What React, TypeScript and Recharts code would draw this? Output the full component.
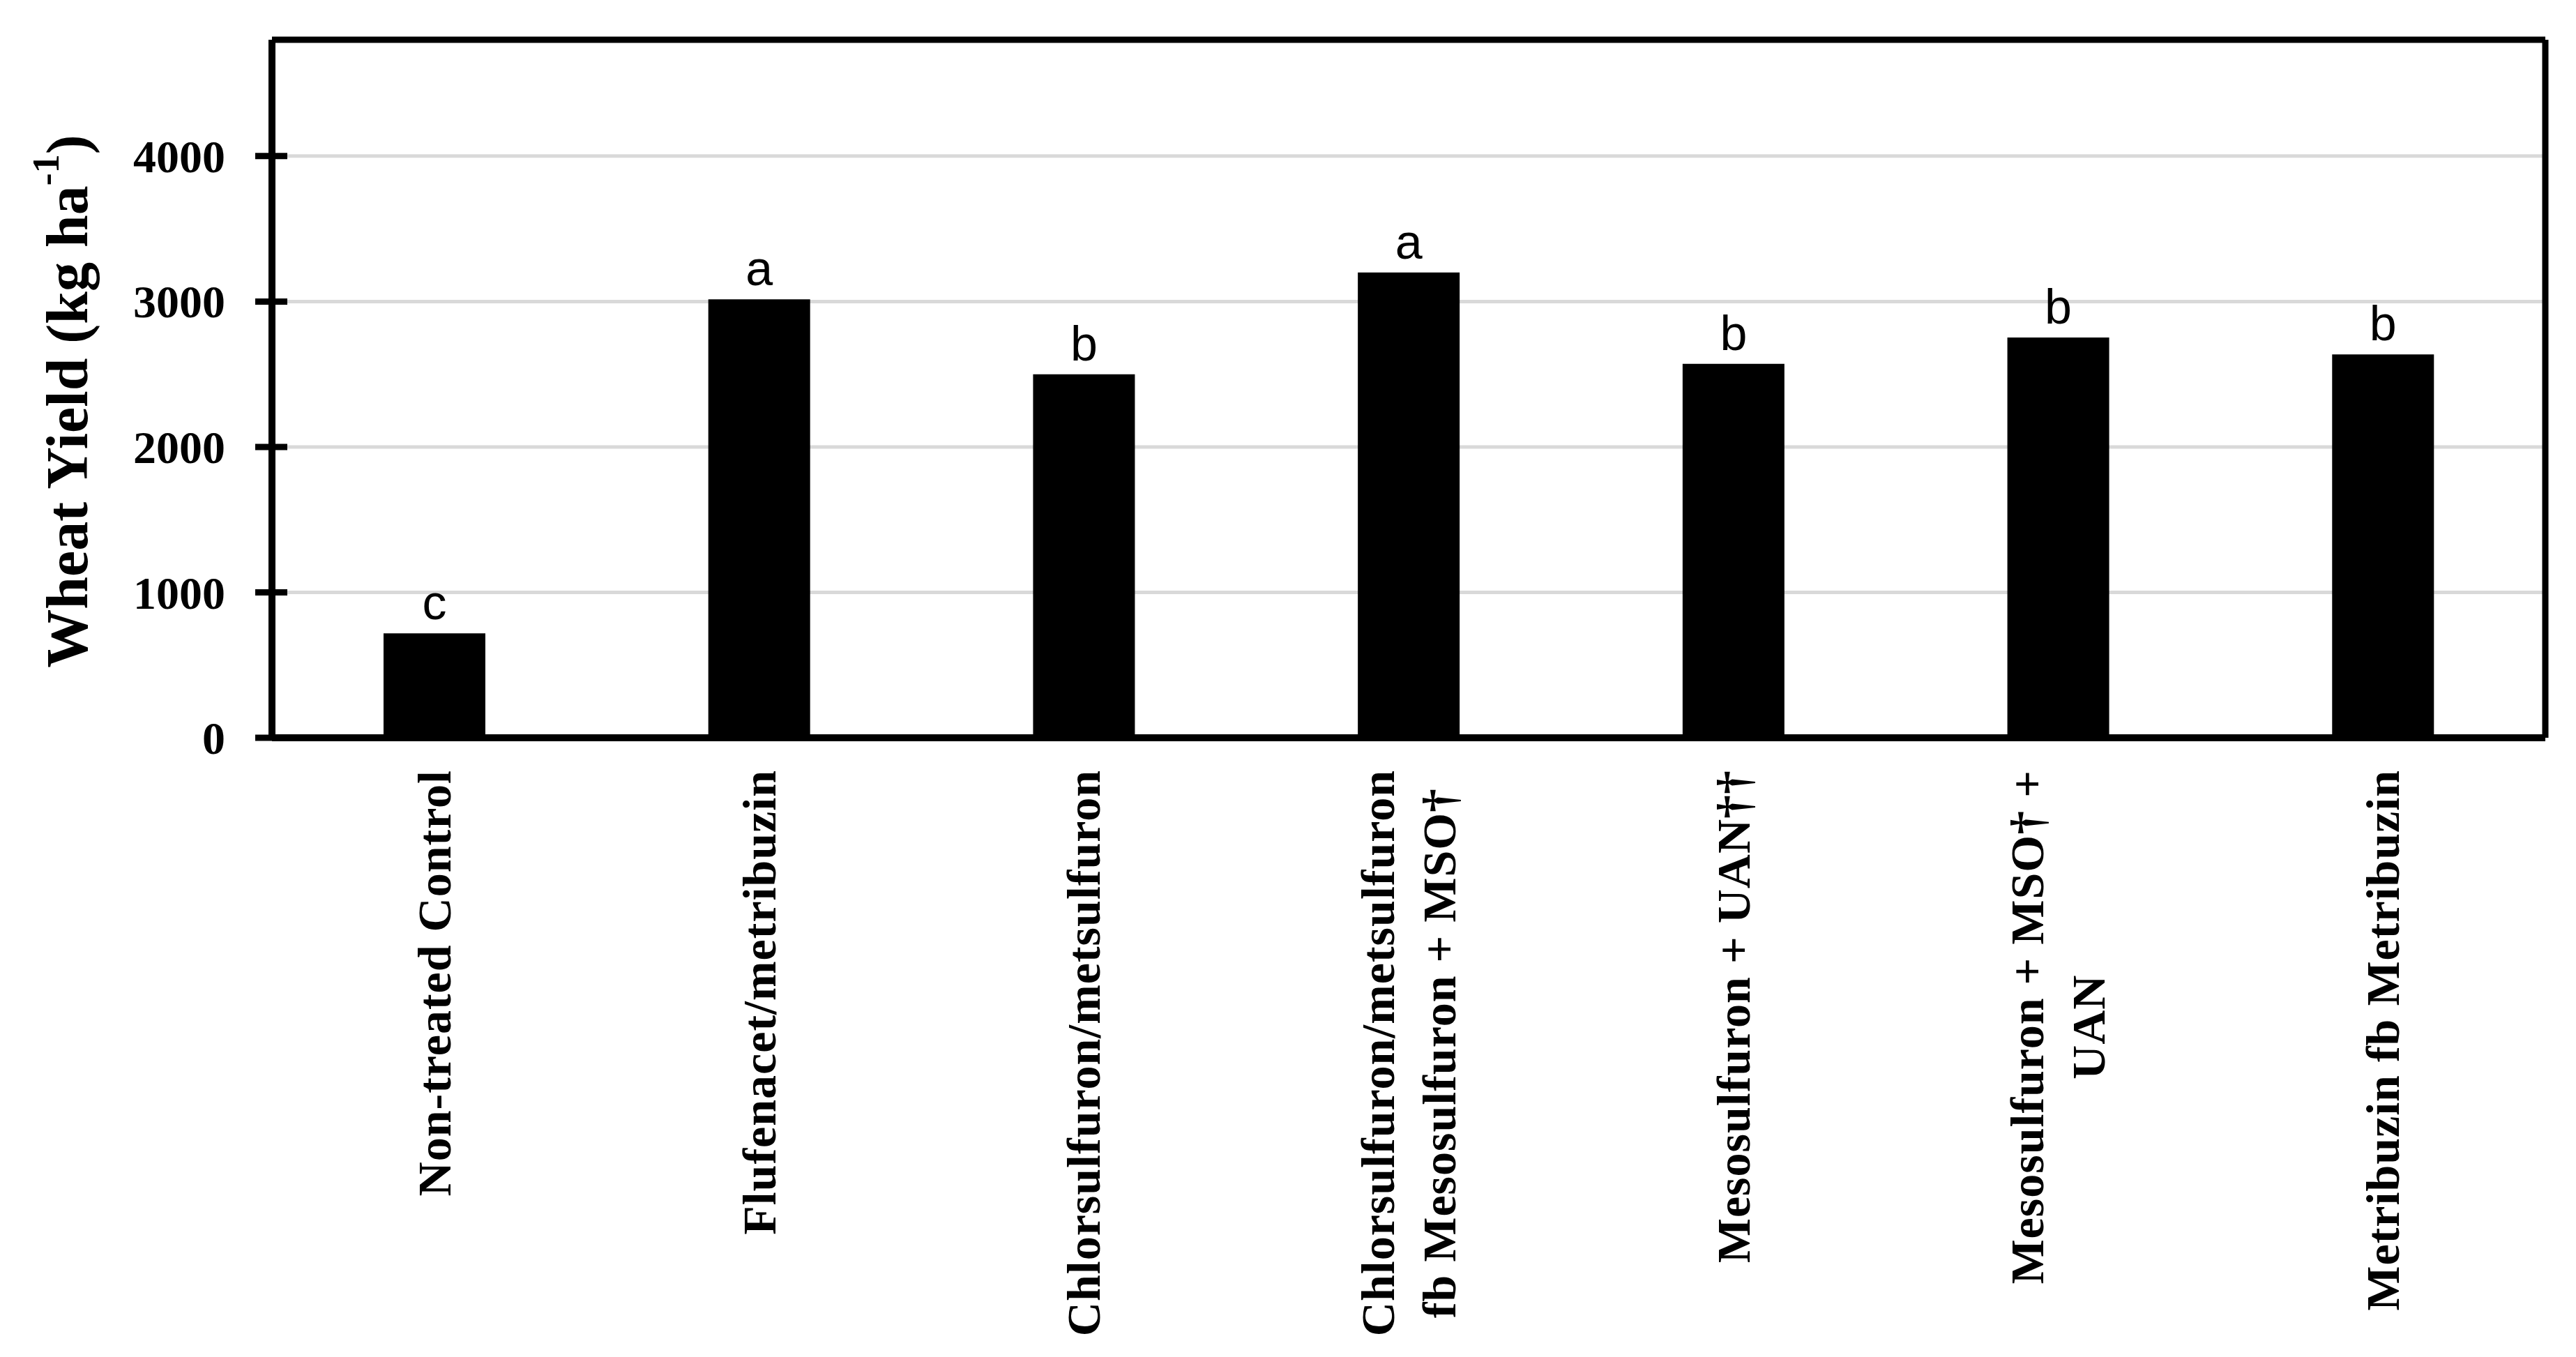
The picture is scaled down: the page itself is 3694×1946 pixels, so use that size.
import React from 'react'
import { BarChart, Bar, XAxis, YAxis, CartesianGrid, LabelList } from 'recharts'

const categories = [
  'Non-treated Control',
  'Flufenacet/metribuzin',
  'Chlorsulfuron/metsulfuron',
  'Chlorsulfuron/metsulfuron\nfb Mesosulfuron + MSO†',
  'Mesosulfuron + UAN††',
  'Mesosulfuron + MSO† +\nUAN',
  'Metribuzin fb Metribuzin',
]
const yields = [718, 3015, 2500, 3200, 2572, 2753, 2636]
const letters = ['c', 'a', 'b', 'a', 'b', 'b', 'b']
const yTicks = [0, 1000, 2000, 3000, 4000]

const data = categories.map((name, i) => ({ name, yield: yields[i], letter: letters[i] }))

const SERIF = '"Liberation Serif", "Times New Roman", serif'
const SANS = '"Liberation Sans", Arial, sans-serif'
const X_FONT_SIZE = 68
const X_SPACING = 1
const LINE_H = 88

let ctx: CanvasRenderingContext2D | null = null
function textWidth(s: string) {
  if (!ctx && typeof document !== 'undefined') ctx = document.createElement('canvas').getContext('2d')
  if (!ctx) return s.length * X_FONT_SIZE * 0.5
  ctx.font = `bold ${X_FONT_SIZE}px ${SERIF}`
  return ctx.measureText(s).width + s.length * X_SPACING
}

function CategoryTick(props: any) {
  const { x, y, payload } = props
  const lines = String(payload.value).split('\n')
  const maxW = Math.max(...lines.map(textWidth))
  return (
    <g transform={`translate(${x},${y}) rotate(-90)`}>
      {lines.map((line, i) => (
        <text
          key={i}
          x={-maxW / 2}
          y={(i - (lines.length - 1) / 2) * LINE_H}
          dominantBaseline="central"
          textAnchor="middle"
          fill="#000"
          fontFamily={SERIF}
          fontWeight="bold"
          fontSize={X_FONT_SIZE}
          letterSpacing={X_SPACING}
        >
          {line}
        </text>
      ))}
    </g>
  )
}

function ValueTick(props: any) {
  const { x, y, payload } = props
  return (
    <g>
      <line x1={x + 43} x2={x + 43 + 24 + 22} y1={y} y2={y} stroke="#000" strokeWidth={9} />
      <text
        x={x}
        y={y}
        dy="0.35em"
        textAnchor="end"
        fill="#000"
        fontFamily={SERIF}
        fontWeight="bold"
        fontSize={66}
      >
        {payload.value}
      </text>
    </g>
  )
}

function YLabel(props: any) {
  const vb = props.viewBox || { x: 0, y: 57, width: 390, height: 1001 }
  const cx = vb.x + 96
  const cy = vb.y + vb.height / 2 + 18
  return (
    <text
      x={cx}
      y={cy}
      transform={`rotate(-90, ${cx}, ${cy})`}
      textAnchor="middle"
      dominantBaseline="central"
      fill="#000"
      fontFamily={SERIF}
      fontWeight="bold"
      fontSize={84}
    >
      Wheat Yield (kg ha
      <tspan fontSize={54} dy={-30}>-1</tspan>
      <tspan dy={30}>)</tspan>
    </text>
  )
}

export default function App() {
  return (
    <div style={{ position: 'absolute', left: 0, top: 0, background: '#fff' }}>
      <BarChart
        width={3694}
        height={1946}
        data={data}
        margin={{ top: 56, right: 43, bottom: 0, left: 0 }}
      >
        <CartesianGrid vertical={false} stroke="#d9d9d9" strokeWidth={5} />
        <Bar dataKey="yield" fill="#000" barSize={146} isAnimationActive={false}>
          <LabelList
            dataKey="letter"
            position="top"
            offset={20}
            fill="#000"
            fontFamily={SANS}
            fontSize={70}
          />
        </Bar>
        <XAxis
          dataKey="name"
          interval={0}
          height={888}
          tickLine={false}
          tickSize={0}
          tickMargin={46}
          axisLine={{ stroke: '#000', strokeWidth: 10 }}
          tick={<CategoryTick />}
        />
        <XAxis
          xAxisId="top"
          orientation="top"
          dataKey="name"
          height={1}
          tick={false}
          tickLine={false}
          axisLine={{ stroke: '#000', strokeWidth: 9 }}
        />
        <YAxis
          width={390}
          domain={[0, 4800]}
          ticks={yTicks}
          interval={0}
          tickLine={false}
          tickSize={24}
          tickMargin={43}
          axisLine={{ stroke: '#000', strokeWidth: 10 }}
          tick={<ValueTick />}
          label={<YLabel />}
        />
        <YAxis
          yAxisId="right"
          orientation="right"
          width={1}
          domain={[0, 4800]}
          tick={false}
          tickLine={false}
          axisLine={{ stroke: '#000', strokeWidth: 9 }}
        />
      </BarChart>
    </div>
  )
}
